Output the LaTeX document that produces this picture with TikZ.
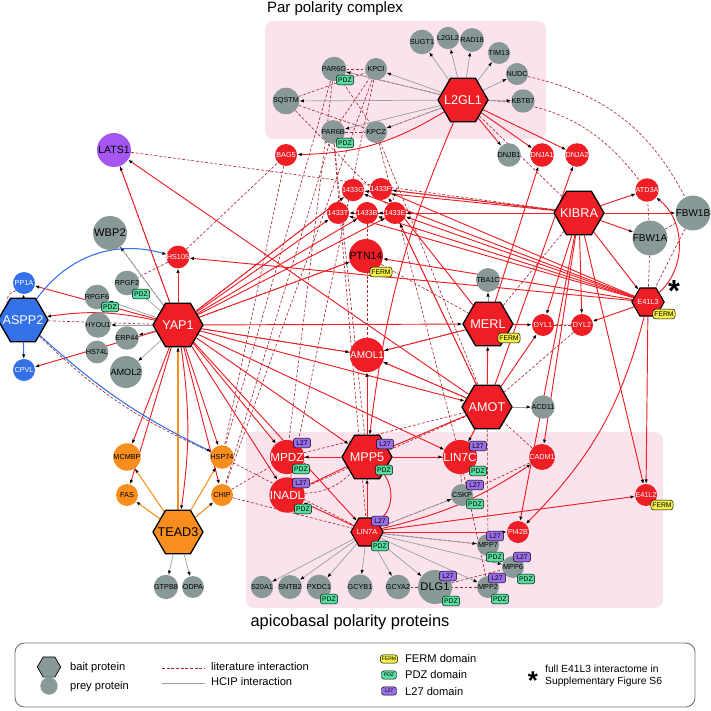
\documentclass[tikz,border=0pt]{standalone}
\usepackage{fontspec}
\setmainfont{Liberation Sans}
\usetikzlibrary{positioning,arrows.meta,shapes.geometric}
\definecolor{protred}{RGB}{238,30,36}
\definecolor{preygray}{RGB}{137,153,151}
\definecolor{protblue}{RGB}{52,112,232}
\definecolor{protorange}{RGB}{247,142,30}
\definecolor{latspurple}{RGB}{165,85,240}
\definecolor{boxpink}{RGB}{250,227,236}
\definecolor{pdzgreen}{RGB}{88,222,160}
\definecolor{lpurple}{RGB}{153,110,232}
\definecolor{fermyellow}{RGB}{242,240,70}
\definecolor{litred}{RGB}{168,40,50}
\definecolor{edgegray}{RGB}{150,160,160}
\newcommand{\bname}[1]{\raisebox{-0.36em}[0pt][0pt]{\makebox[0pt]{#1}}}
\pgfdeclarelayer{boxes}
\pgfdeclarelayer{links}
\pgfsetlayers{boxes,links,main}
\tikzset{
prey/.style={
circle,
inner sep=0pt,
minimum size=0.66cm,
font=\fontsize{6.2}{6.5}\selectfont
},
big/.style={
minimum size=1.02cm,
font=\fontsize{9}{9}\selectfont
},
redp/.style={prey,fill=protred,text=white},
grayp/.style={prey,fill=preygray,text=black},
orangep/.style={prey,fill=protorange,text=black},
bluep/.style={prey,fill=protblue,text=white},
bait/.style={
regular polygon,
regular polygon sides=6,
draw=black,
line width=1.1pt,
fill=protred,
text=white,
inner sep=0pt,
minimum size=1.5cm,
font=\fontsize{10.8}{10.8}\selectfont
},
smallbait/.style={
bait,
minimum size=0.97cm,
line width=0.9pt,
font=\fontsize{6.3}{6.3}\selectfont
},
tag/.style={
draw=black,
line width=0.4pt,
rounded corners=2.2pt,
inner xsep=1.2pt,
inner ysep=0.6pt,
minimum width=0.52cm,
minimum height=0.29cm,
font=\fontsize{5.8}{5.8}\selectfont
},
pdz/.style={tag,fill=pdzgreen},
ltag/.style={tag,fill=lpurple},
ferm/.style={tag,fill=fermyellow},
hcip/.style={
draw=protred,
line width=0.8pt,
-{Latex[length=1.3mm,width=1mm,color=black]}
},
gline/.style={hcip,draw=edgegray,line width=0.6pt},
oline/.style={hcip,draw=protorange,line width=0.9pt},
bline/.style={hcip,draw=protblue,line width=0.9pt},
lit/.style={
draw=litred,
dash pattern=on 2.4pt off 1.6pt,
line width=0.55pt
},
legtext/.style={anchor=west,font=\fontsize{9.5}{11}\selectfont}
}

\begin{document}
\begin{tikzpicture}[x=0.03cm,y=-0.03cm]
\useasboundingbox (0,0) rectangle (710,711);

\begin{pgfonlayer}{boxes}
\fill[boxpink,rounded corners=7pt] (265,21) rectangle (546,139);
\fill[boxpink,rounded corners=7pt] (246,432) rectangle (663,608);
\end{pgfonlayer}
\node[font=\fontsize{12.8}{13}\selectfont] (partitle) at (335,9) {Par polarity complex};
\node[font=\fontsize{14}{14}\selectfont] (apititle) at (350,622) {apicobasal polarity proteins};

\node[bait] (l2gl1) at (463,100) {\bname{L2GL1}};
\node[grayp] (sugt1) at (422,42) {SUGT1};
\node[grayp] (l2gl2) at (448,38) {L2GL2};
\node[grayp] (rad18) at (472,40) {RAD18};
\node[grayp] (tim13) at (499,53) {TIM13};
\node[grayp] (nudc) at (517,74) {NUDC};
\node[grayp] (kbtb7) at (523,101) {KBTB7};
\node[grayp] (par6g) at (334,69) {PAR6G};
\node[grayp] (kpci) at (376,69) {KPCI};
\node[grayp] (sqstm) at (286,101) {SQSTM};
\node[grayp] (par6b) at (333,132) {PAR6B};
\node[grayp] (kpcz) at (376,132) {KPCZ};
\node[redp] (bag5) at (286,155) {BAG5};
\node[grayp] (dnjb1) at (509,155) {DNJB1};
\node[redp] (dnja1) at (542,155) {DNJA1};
\node[redp] (dnja2) at (577,155) {DNJA2};
\node[redp] (atd3a) at (647,190) {ATD3A};
\node[bait] (kibra) at (579,213) {\bname{KIBRA}};
\node[grayp,big,minimum size=0.95cm,font=\fontsize{8.5}{9}\selectfont] (fbw1b) at (693,213) {FBW1B};
\node[grayp,big,minimum size=0.95cm,font=\fontsize{8.5}{9}\selectfont] (fbw1a) at (650,238) {FBW1A};
\node[redp] (g1433) at (353,190) {1433G};
\node[redp] (f1433) at (381,189) {1433F};
\node[redp] (t1433) at (338,213) {1433T};
\node[redp] (b1433) at (367,213) {1433B};
\node[redp] (e1433) at (395,213) {1433E};
\node[redp,big,text=black] (ptn14) at (366,256) {PTN14};
\node[grayp] (tba1c) at (488,280) {TBA1C};
\node[bait] (merl) at (488,324) {\bname{MERL}};
\node[redp] (dyl1) at (543,325) {DYL1};
\node[redp] (dyl2) at (582,325) {DYL2};
\node[smallbait] (e41l3) at (648,302) {\bname{E41L3}};
\node[redp,big,font=\fontsize{8.5}{9}\selectfont] (amol1) at (367,355) {AMOL1};
\node[bait] (amot) at (487,407) {\bname{AMOT}};
\node[grayp] (acd11) at (543,407) {ACD11};
\node[prey,big,fill=latspurple] (lats1) at (114,150) {LATS1};
\node[grayp,big,font=\fontsize{9.5}{10}\selectfont] (wbp2) at (110,233) {WBP2};
\node[redp] (hs105) at (178,257) {HS105};
\node[bluep] (pp1a) at (24,283) {PP1A};
\node[bait,fill=protblue] (aspp2) at (23,320) {\bname{ASPP2}};
\node[bluep] (cpvl) at (24,370) {CPVL};
\node[grayp] (rpgf2) at (127,283) {RPGF2};
\node[grayp] (rpgf6) at (97,297) {RPGF6};
\node[grayp] (hyou1) at (98,325) {HYOU1};
\node[grayp] (erp44) at (127,338) {ERP44};
\node[grayp] (hs74l) at (97,352) {HS74L};
\node[grayp,big,minimum size=0.96cm,font=\fontsize{7.8}{8}\selectfont] (amol2) at (126,372) {AMOL2};
\node[bait] (yap1) at (178,325) {\bname{YAP1}};
\node[orangep] (mcmbp) at (127,457) {MCMBP};
\node[orangep] (fas) at (127,495) {FAS};
\node[orangep] (hsp74) at (222,457) {HSP74};
\node[orangep] (chip) at (222,495) {CHIP};
\node[bait,fill=protorange,text=black] (tead3) at (178,532) {\bname{TEAD3}};
\node[grayp] (gtpb8) at (166,587) {GTPB8};
\node[grayp] (odpa) at (193,587) {ODPA};
\node[redp,big,font=\fontsize{10}{10}\selectfont] (mpdz) at (287,457) {MPDZ};
\node[bait] (mpp5) at (367,457) {\bname{MPP5}};
\node[redp,big,font=\fontsize{10}{10}\selectfont] (lin7c) at (460,457) {LIN7C};
\node[redp,big,font=\fontsize{10}{10}\selectfont] (inadl) at (287,495) {INADL};
\node[smallbait] (lin7a) at (367,532) {\bname{LIN7A}};
\node[grayp] (cskp) at (462,495) {CSKP};
\node[redp] (cadm1) at (542,457) {CADM1};
\node[redp] (e41l2) at (646,495) {E41L2};
\node[redp] (pi42b) at (518,532) {PI42B};
\node[grayp] (mpp7) at (488,545) {MPP7};
\node[grayp] (mpp6) at (513,567) {MPP6};
\node[grayp] (mpp2) at (488,587) {MPP2};
\node[grayp] (s20a1) at (262,587) {S20A1};
\node[grayp] (sntb2) at (290,587) {SNTB2};
\node[grayp] (pxdc1) at (319,587) {PXDC1};
\node[grayp] (gcyb1) at (360,587) {GCYB1};
\node[grayp] (gcya2) at (398,587) {GCYA2};
\node[grayp,big,font=\fontsize{9.5}{10}\selectfont] (dlg1) at (435,587) {DLG1};

\node[pdz] (par6g-pdz) at (345,80) {PDZ};
\node[pdz] (par6b-pdz) at (345,143) {PDZ};
\node[pdz] (rpgf2-pdz) at (141,294) {PDZ};
\node[pdz] (rpgf6-pdz) at (110,307) {PDZ};
\node[ferm] (ptn14-ferm) at (381,272) {FERM};
\node[ferm] (merl-ferm) at (509,338) {FERM};
\node[ferm] (e41l3-ferm) at (664,314) {FERM};
\node[ferm] (e41l2-ferm) at (662,505) {FERM};
\node[ltag] (mpdz-l27) at (302,443) {L27};
\node[pdz] (mpdz-pdz) at (301,469) {PDZ};
\node[ltag] (mpp5-l27) at (385,444) {L27};
\node[pdz] (mpp5-pdz) at (384,470) {PDZ};
\node[ltag] (lin7c-l27) at (478,446) {L27};
\node[pdz] (lin7c-pdz) at (478,471) {PDZ};
\node[ltag] (inadl-l27) at (301,483) {L27};
\node[pdz] (inadl-pdz) at (303,509) {PDZ};
\node[ltag] (lin7a-l27) at (380,521) {L27};
\node[pdz] (lin7a-pdz) at (380,546) {PDZ};
\node[ltag] (cskp-l27) at (475,485) {L27};
\node[pdz] (cskp-pdz) at (475,504) {PDZ};
\node[ltag] (mpp7-l27) at (495,536) {L27};
\node[pdz] (mpp7-pdz) at (495,557) {PDZ};
\node[ltag] (mpp6-l27) at (522,557) {L27};
\node[pdz] (mpp6-pdz) at (526,579) {PDZ};
\node[ltag] (mpp2-l27) at (497,578) {L27};
\node[pdz] (mpp2-pdz) at (500,599) {PDZ};
\node[pdz] (pxdc1-pdz) at (329,599) {PDZ};
\node[ltag] (dlg1-l27) at (448,576) {L27};
\node[pdz] (dlg1-pdz) at (451,601) {PDZ};
\node[inner sep=0pt,font=\bfseries\fontsize{26}{26}\selectfont] (star) at (674,291) {*};

\begin{pgfonlayer}{links}
\foreach \a/\b in {lats1/yap1,lats1/kibra,hs105/bag5,hs105/rpgf2,aspp2/yap1,wbp2/yap1,par6g/kpci,par6g/kpcz,par6b/kpci,par6b/kpcz,sqstm/kpcz,sqstm/kpci,sqstm/e1433,par6g/l2gl1,kpcz/l2gl1,par6g/mpdz,par6g/hsp74,par6b/chip,par6b/mpp5,kpcz/lin7c,kpci/inadl,kpcz/amot,kpci/chip,par6b/lin7a,bag5/hsp74,g1433/yap1,e1433/amot,f1433/kibra,ptn14/yap1,ptn14/merl,amol1/yap1,amol1/amot,amol1/merl,merl/kibra,merl/dyl2,dyl1/dyl2,dyl2/amot,fbw1a/fbw1b,fbw1b/e41l3,fbw1a/atd3a,fbw1a/e41l3,l2gl1/kibra,mpdz/amot,inadl/amot,lin7c/amot,mpp5/amot,lin7c/mpp5,mpdz/mpp5,lin7c/cskp,cskp/lin7a,cskp/cadm1,cadm1/amot,lin7a/mpp7,amot/mpp7,mpp2/dlg1,gcya2/dlg1,dlg1/mpp6,chip/mpdz,chip/lin7a,hsp74/lin7a,tead3/yap1,mpp2/lin7c,b1433/lin7a}
\draw[lit](\a)--(\b);
\draw[lit] (pp1a) to[bend right=45] (aspp2);
\draw[lit] (nudc) to[bend left=25] (fbw1b);
\draw[lit] (l2gl1) to[bend left=25] (atd3a);
\draw[lit] (inadl) to[bend right=20] (mpp5);
\draw[lit] (aspp2) to[bend right=10] (hsp74);

\foreach \a/\b in {l2gl1/sugt1,l2gl1/l2gl2,l2gl1/rad18,l2gl1/tim13,l2gl1/nudc,l2gl1/kbtb7,l2gl1/kpci,l2gl1/par6g,l2gl1/sqstm,l2gl1/par6b,l2gl1/kpcz,yap1/wbp2,yap1/rpgf2,yap1/rpgf6,yap1/hyou1,yap1/erp44,yap1/amol2,tead3/gtpb8,tead3/odpa,merl/tba1c,amot/acd11,lin7a/s20a1,lin7a/sntb2,lin7a/pxdc1,lin7a/gcyb1,lin7a/gcya2,lin7a/dlg1,lin7a/mpp2,lin7a/mpp6,lin7a/mpp7,lin7a/cskp}
\draw[gline](\a)--(\b);

\foreach \a/\b in {l2gl1/dnjb1,l2gl1/dnja1,l2gl1/dnja2,kibra/g1433,kibra/f1433,kibra/t1433,kibra/b1433,kibra/e1433,kibra/atd3a,kibra/fbw1b,kibra/fbw1a,kibra/dyl1,kibra/dyl2,kibra/e41l3,kibra/cadm1,kibra/pi42b,kibra/e41l2,e41l3/g1433,e41l3/f1433,e41l3/t1433,e41l3/b1433,e41l3/e1433,e41l3/hs105,e41l3/ptn14,e41l3/dyl2,e41l3/e41l2,yap1/lats1,yap1/hs105,yap1/pp1a,yap1/cpvl,yap1/t1433,yap1/b1433,yap1/e1433,yap1/g1433,yap1/ptn14,yap1/merl,yap1/amol1,yap1/amot,yap1/mpdz,yap1/mpp5,yap1/lin7c,yap1/inadl,yap1/lin7a,yap1/mcmbp,yap1/fas,yap1/hsp74,yap1/chip,merl/dyl1,merl/amol1,merl/dnja1,merl/f1433,amot/merl,amot/amol1,amot/lin7c,amot/dyl1,amot/dnja2,amot/lats1,amot/mpp5,amot/e1433,mpp5/mpdz,mpp5/lin7c,mpp5/inadl,mpp5/amol1,lin7a/mpp5,lin7a/inadl,lin7a/pi42b,lin7a/e41l2}
\draw[hcip](\a)--(\b);
\draw[hcip] (l2gl1) to[bend left=15] (bag5);
\draw[hcip] (l2gl1) to[bend right=8] (mpp5);
\draw[hcip] (e41l3) to[bend right=50] (atd3a);
\draw[hcip] (e41l3) to[bend left=15] (pi42b);
\draw[hcip] (yap1) to[bend right=10] (aspp2);
\draw[hcip] (yap1) to[bend left=8] (tead3);
\draw[hcip] (mpp5) to[bend left=45] (lin7a);
\draw[hcip] (lin7a) to[bend right=10] (cadm1);

\foreach \x in {yap1,mcmbp,fas,hsp74,chip}
\draw[oline](tead3)--(\x);
\draw[bline] (aspp2)--(pp1a);
\draw[bline] (aspp2)--(cpvl);
\draw[bline] (aspp2) to[bend left=35] (hs105);
\draw[bline] (aspp2) to[bend right=8] (hsp74);
\end{pgfonlayer}

\draw[preygray!80!black,line width=0.8pt,rounded corners=8pt] (15,643) rectangle (695,707);
\node[regular polygon,regular polygon sides=6,fill=preygray,draw=black,line width=0.6pt,inner sep=0pt,minimum size=0.7cm] (legbait) at (49,667) {};
\node[circle,fill=preygray,inner sep=0pt,minimum size=0.52cm] (legprey) at (49,686) {};
\node[legtext] (legbaittext) at (66,668) {bait protein};
\node[legtext] (legpreytext) at (66,687) {prey protein};
\coordinate (litA) at (162,668);
\coordinate (litB) at (205,668);
\coordinate (hcipA) at (162,683);
\coordinate (hcipB) at (205,683);
\draw[lit] (litA)--(litB);
\draw[edgegray,line width=0.6pt] (hcipA)--(hcipB);
\node[legtext] (littext) at (207,667) {literature interaction};
\node[legtext] (hciptext) at (207,682) {HCIP interaction};
\node[ferm,minimum width=0.45cm,minimum height=0.25cm,font=\fontsize{4.3}{4.3}\selectfont] (legferm) at (389,659) {FERM};
\node[pdz,minimum width=0.45cm,minimum height=0.25cm,font=\fontsize{4.3}{4.3}\selectfont] (legpdz) at (389,675) {PDZ};
\node[ltag,minimum width=0.45cm,minimum height=0.25cm,font=\fontsize{4.3}{4.3}\selectfont] (legl27) at (389,691) {L27};
\node[legtext] (fermtext) at (401,659) {FERM domain};
\node[legtext] (pdztext) at (401,675) {PDZ domain};
\node[legtext] (l27text) at (401,692) {L27 domain};
\node[font=\bfseries\fontsize{22}{22}\selectfont] (legstar) at (533,681) {*};
\node[legtext,align=left,font=\fontsize{8.8}{10}\selectfont] (startext) at (541,676) {full E41L3 interactome in\\Supplementary Figure S6};
\end{tikzpicture}
\end{document}
